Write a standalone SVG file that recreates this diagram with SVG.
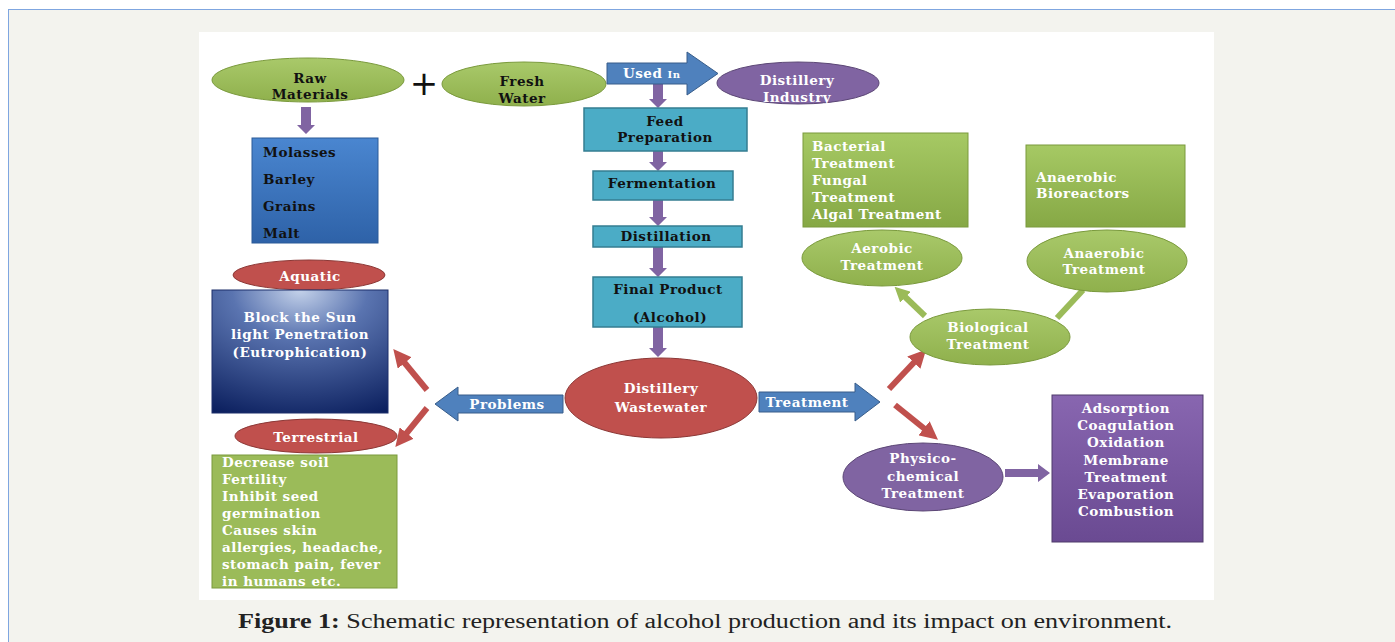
<svg xmlns="http://www.w3.org/2000/svg" width="1395" height="642" viewBox="0 0 1395 642">
<defs>
<style>
.t{font-family:"DejaVu Serif","Liberation Serif",serif;font-weight:bold;font-size:13.5px;letter-spacing:0.5px;}
.w{fill:#ffffff;}
.k{fill:#111111;}
.mid{text-anchor:middle;}
.grn{fill:url(#gGreen);stroke:#7a9a3c;stroke-width:1;}
.red{fill:#c0504d;stroke:#8c3836;stroke-width:1;}
.pur{fill:#8064a2;stroke:#5c4776;stroke-width:1;}
.teal{fill:#4bacc6;stroke:#357d91;stroke-width:1.5;}
.blue{fill:#4f81bd;stroke:#385d8a;stroke-width:1;}
.darr{fill:#8064a2;}
.rline{stroke:#c0504d;stroke-width:6;fill:none;}
.gline{stroke:#9bbb59;stroke-width:6;fill:none;}
</style>
<linearGradient id="gGreen" x1="0" y1="0" x2="0" y2="1">
<stop offset="0" stop-color="#a9c96a"/><stop offset="1" stop-color="#8fb04c"/>
</linearGradient>
<linearGradient id="gBoxG" x1="0" y1="0" x2="0" y2="1">
<stop offset="0" stop-color="#a6c964"/><stop offset="1" stop-color="#86a845"/>
</linearGradient>
<linearGradient id="gMol" x1="0" y1="0" x2="0" y2="1">
<stop offset="0" stop-color="#4a86d0"/><stop offset="1" stop-color="#2e62a8"/>
</linearGradient>
<radialGradient id="gSun" cx="0.5" cy="0" r="1.1" fx="0.5" fy="0">
<stop offset="0" stop-color="#c4d2ea"/><stop offset="0.35" stop-color="#5a74b0"/><stop offset="1" stop-color="#0b1f5e"/>
</radialGradient>
<linearGradient id="gPurBox" x1="0" y1="0" x2="0" y2="1">
<stop offset="0" stop-color="#8866b0"/><stop offset="1" stop-color="#6a4a92"/>
</linearGradient>
<marker id="mRed" viewBox="0 0 10 10" refX="5" refY="5" markerWidth="3" markerHeight="3" orient="auto">
<path d="M0,0 L10,5 L0,10 Z" fill="#c0504d"/>
</marker>
<marker id="mGrn" viewBox="0 0 10 10" refX="5" refY="5" markerWidth="2.5" markerHeight="2.5" orient="auto">
<path d="M0,0 L10,5 L0,10 Z" fill="#9bbb59"/>
</marker>
</defs>

<rect x="0" y="0" width="1395" height="642" fill="#ffffff"/>
<rect x="8.5" y="9.5" width="1400" height="640" fill="#f3f3ee" stroke="#7fa6e0" stroke-width="1"/>
<rect x="199" y="32" width="1015" height="568" fill="#ffffff"/>

<g id="connectors">
<path class="darr" d="M301,107 H311 V125 H315 L306,134 L297,125 H301 Z"/>
<path class="darr" d="M653,83 H663 V99 H667 L658,108 L649,99 H653 Z"/>
<path class="darr" d="M653,151 H663 V162 H667 L658,171 L649,162 H653 Z"/>
<path class="darr" d="M653,200 H663 V217 H667 L658,226 L649,217 H653 Z"/>
<path class="darr" d="M653,247 H663 V268 H667 L658,277 L649,268 H653 Z"/>
<path class="darr" d="M653,327 H663 V348 H667 L658,357 L649,348 H653 Z"/>
<line class="rline" x1="427" y1="390" x2="399" y2="356" marker-end="url(#mRed)"/>
<line class="rline" x1="427" y1="408" x2="401" y2="440" marker-end="url(#mRed)"/>
<line class="rline" x1="889" y1="389" x2="920" y2="356" marker-end="url(#mRed)"/>
<line class="rline" x1="895" y1="405" x2="931" y2="434" marker-end="url(#mRed)"/>
<line class="gline" x1="925" y1="316" x2="900" y2="292" marker-end="url(#mGrn)"/>
<line class="gline" x1="1057" y1="318" x2="1083" y2="290"/>
<path class="darr" d="M1005,469 H1038 V464 L1050,473 L1038,482 V477 H1005 Z"/>
</g>

<g id="raw-materials">
<ellipse class="grn" cx="308" cy="80" rx="96" ry="22"/>
<text class="t k mid" x="310" y="83">Raw</text>
<text class="t k mid" x="310" y="99">Materials</text>
</g>
<g id="plus">
<text x="424" y="95" font-family="DejaVu Sans, sans-serif" font-size="34" text-anchor="middle" fill="#111">+</text>
</g>
<g id="fresh-water">
<ellipse class="grn" cx="524" cy="84" rx="82" ry="22"/>
<text class="t k mid" x="522" y="86">Fresh</text>
<text class="t k mid" x="522" y="103">Water</text>
</g>
<g id="used-in">
<path class="blue" d="M607,63 H687 V52 L718,73.5 L687,95 V84 H607 Z"/>
<text class="t w" x="623" y="78">Used <tspan font-size="10">In</tspan></text>
</g>
<g id="distillery-industry">
<ellipse class="pur" cx="798" cy="83" rx="81" ry="21"/>
<text class="t w mid" x="797" y="85">Distillery</text>
<text class="t w mid" x="797" y="102">Industry</text>
</g>
<g id="raw-list">
<rect x="252" y="138" width="126" height="105" fill="url(#gMol)" stroke="#2b5a98" stroke-width="1"/>
<text class="t k" x="263" y="157">Molasses</text>
<text class="t k" x="263" y="184">Barley</text>
<text class="t k" x="263" y="211">Grains</text>
<text class="t k" x="263" y="238">Malt</text>
</g>
<g id="feed-preparation">
<rect class="teal" x="584" y="108" width="163" height="43"/>
<text class="t k mid" x="665" y="126">Feed</text>
<text class="t k mid" x="665" y="142">Preparation</text>
</g>
<g id="fermentation">
<rect class="teal" x="593" y="171" width="140" height="29"/>
<text class="t k mid" x="662" y="188">Fermentation</text>
</g>
<g id="distillation">
<rect class="teal" x="593" y="226" width="149" height="21"/>
<text class="t k mid" x="666" y="241">Distillation</text>
</g>
<g id="final-product">
<rect class="teal" x="593" y="277" width="149" height="50"/>
<text class="t k mid" x="668" y="294">Final Product</text>
<text class="t k mid" x="670" y="322">(Alcohol)</text>
</g>
<g id="distillery-wastewater">
<ellipse class="red" cx="661" cy="398" rx="96" ry="40"/>
<text class="t w mid" x="661" y="393">Distillery</text>
<text class="t w mid" x="661" y="412">Wastewater</text>
</g>
<g id="problems">
<path class="blue" d="M563,395 H458 V387 L435,404 L458,421 V413 H563 Z"/>
<text class="t w mid" x="507" y="409">Problems</text>
</g>
<g id="treatment">
<path class="blue" d="M759,392 H855 V383 L880,402 L855,421 V412 H759 Z"/>
<text class="t w mid" x="807" y="407">Treatment</text>
</g>
<g id="aquatic">
<ellipse class="red" cx="309" cy="275" rx="76" ry="15"/>
<text class="t w mid" x="310" y="281">Aquatic</text>
</g>
<g id="block-sun">
<rect x="212" y="290" width="176" height="123" fill="url(#gSun)" stroke="#1c2f6a" stroke-width="1"/>
<text class="t w mid" x="300" y="322">Block the Sun</text>
<text class="t w mid" x="300" y="339">light Penetration</text>
<text class="t w mid" x="300" y="357">(Eutrophication)</text>
</g>
<g id="terrestrial">
<ellipse class="red" cx="316" cy="436" rx="81" ry="17"/>
<text class="t w mid" x="316" y="442">Terrestrial</text>
</g>
<g id="terrestrial-effects">
<rect x="212" y="455" width="185" height="133" fill="#9bbb59" stroke="#7a9a3c" stroke-width="1"/>
<text class="t w" x="222" y="467">Decrease soil</text>
<text class="t w" x="222" y="484">Fertility</text>
<text class="t w" x="222" y="501">Inhibit seed</text>
<text class="t w" x="222" y="518">germination</text>
<text class="t w" x="222" y="535">Causes skin</text>
<text class="t w" x="222" y="552">allergies, headache,</text>
<text class="t w" x="222" y="569">stomach pain, fever</text>
<text class="t w" x="222" y="586">in humans etc.</text>
</g>
<g id="aerobic-methods">
<rect x="803" y="133" width="165" height="94" fill="url(#gBoxG)" stroke="#7a9a3c" stroke-width="1"/>
<text class="t w" x="812" y="151">Bacterial</text>
<text class="t w" x="812" y="168">Treatment</text>
<text class="t w" x="812" y="185">Fungal</text>
<text class="t w" x="812" y="202">Treatment</text>
<text class="t w" x="812" y="219">Algal Treatment</text>
</g>
<g id="anaerobic-bioreactors">
<rect x="1026" y="145" width="159" height="82" fill="url(#gBoxG)" stroke="#7a9a3c" stroke-width="1"/>
<text class="t w" x="1036" y="182">Anaerobic</text>
<text class="t w" x="1036" y="198">Bioreactors</text>
</g>
<g id="aerobic-treatment">
<ellipse class="grn" cx="882" cy="258" rx="80" ry="28"/>
<text class="t w mid" x="882" y="253">Aerobic</text>
<text class="t w mid" x="882" y="270">Treatment</text>
</g>
<g id="anaerobic-treatment">
<ellipse class="grn" cx="1107" cy="261" rx="80" ry="31"/>
<text class="t w mid" x="1104" y="258">Anaerobic</text>
<text class="t w mid" x="1104" y="274">Treatment</text>
</g>
<g id="biological-treatment">
<ellipse class="grn" cx="990" cy="337" rx="80" ry="28"/>
<text class="t w mid" x="988" y="332">Biological</text>
<text class="t w mid" x="988" y="349">Treatment</text>
</g>
<g id="physico-chemical">
<ellipse class="pur" cx="923" cy="477" rx="80" ry="34"/>
<text class="t w mid" x="923" y="463">Physico-</text>
<text class="t w mid" x="923" y="481">chemical</text>
<text class="t w mid" x="923" y="498">Treatment</text>
</g>
<g id="physico-methods">
<rect x="1052" y="395" width="151" height="147" fill="url(#gPurBox)" stroke="#4f3a6b" stroke-width="1"/>
<text class="t w mid" x="1126" y="413">Adsorption</text>
<text class="t w mid" x="1126" y="430">Coagulation</text>
<text class="t w mid" x="1126" y="447">Oxidation</text>
<text class="t w mid" x="1126" y="465">Membrane</text>
<text class="t w mid" x="1126" y="482">Treatment</text>
<text class="t w mid" x="1126" y="499">Evaporation</text>
<text class="t w mid" x="1126" y="516">Combustion</text>
</g>

<g id="caption">
<text x="238" y="628" font-family="Liberation Serif, serif" font-size="20" fill="#222" textLength="934" lengthAdjust="spacingAndGlyphs"><tspan font-weight="bold">Figure 1:</tspan> Schematic representation of alcohol production and its impact on environment.</text>
</g>
</svg>
